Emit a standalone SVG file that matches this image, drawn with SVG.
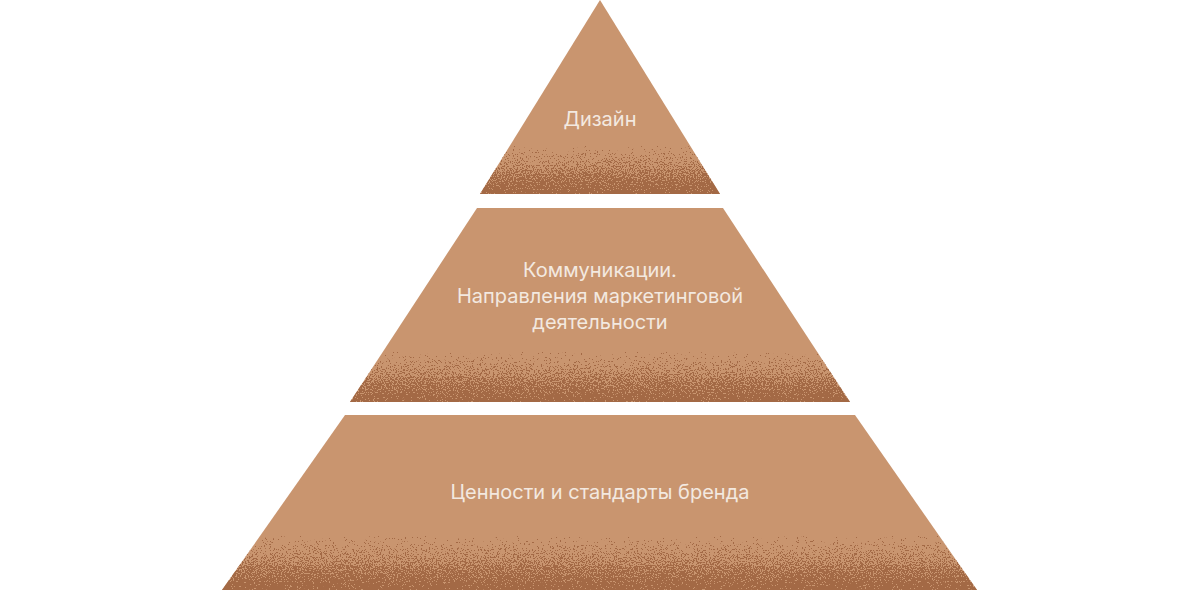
<svg xmlns="http://www.w3.org/2000/svg" width="1200" height="590" viewBox="0 0 1200 590">
  <style>
    .tier { fill: #C9956F; }
    .label { font-family: Inter, Roboto, "Liberation Sans", sans-serif; font-size: 20px; fill: #F3E9E0; text-anchor: middle; }
  </style>
  <defs>
    <filter id="grain" x="0" y="0" width="100%" height="100%" color-interpolation-filters="sRGB">
      <feTurbulence type="fractalNoise" baseFrequency="0.75" numOctaves="3" seed="7" result="n"/>
      <feColorMatrix in="n" type="matrix" values="0 0 0 0 0  0 0 0 0 0  0 0 0 0 0  1 0 0 0 0" result="na"/>
      <feComposite in="SourceGraphic" in2="na" operator="arithmetic" k1="0" k2="1" k3="2.2" k4="-1.6" result="sum"/>
      <feComponentTransfer in="sum" result="th">
        <feFuncA type="linear" slope="25" intercept="0"/>
      </feComponentTransfer>
      <feFlood flood-color="#A36945"/>
      <feComposite operator="in" in2="th"/>
    </filter>
    <linearGradient id="fade" x1="0" y1="0" x2="0" y2="1">
      <stop offset="0" stop-color="#fff" stop-opacity="0"/>
      <stop offset="0.85" stop-color="#fff" stop-opacity="0.85"/>
      <stop offset="1" stop-color="#fff" stop-opacity="1"/>
    </linearGradient>
    <clipPath id="c1"><polygon points="600,0 720,194 480,194"/></clipPath>
    <clipPath id="c2"><polygon points="477,208 723,208 850,402 350,402"/></clipPath>
    <clipPath id="c3"><polygon points="345,415 855,415 977,590 222,590"/></clipPath>
  </defs>

  <g id="tier-design">
    <polygon class="tier" points="600,0 720,194 480,194"/>
    <g clip-path="url(#c1)"><rect x="470" y="146" width="260" height="49" fill="url(#fade)" filter="url(#grain)"/></g>
    <text class="label" x="600" y="126">Дизайн</text>
  </g>

  <g id="tier-communications">
    <polygon class="tier" points="477,208 723,208 850,402 350,402"/>
    <g clip-path="url(#c2)"><rect x="340" y="352" width="520" height="51" fill="url(#fade)" filter="url(#grain)"/></g>
    <text class="label" x="600" y="277">Коммуникации.</text>
    <text class="label" x="600" y="303">Направления маркетинговой</text>
    <text class="label" x="600" y="329">деятельности</text>
  </g>

  <g id="tier-values">
    <polygon class="tier" points="345,415 855,415 977,590 222,590"/>
    <g clip-path="url(#c3)"><rect x="210" y="536" width="780" height="55" fill="url(#fade)" filter="url(#grain)"/></g>
    <text class="label" x="600" y="499">Ценности и стандарты бренда</text>
  </g>

  <g id="connectors"/>
</svg>
